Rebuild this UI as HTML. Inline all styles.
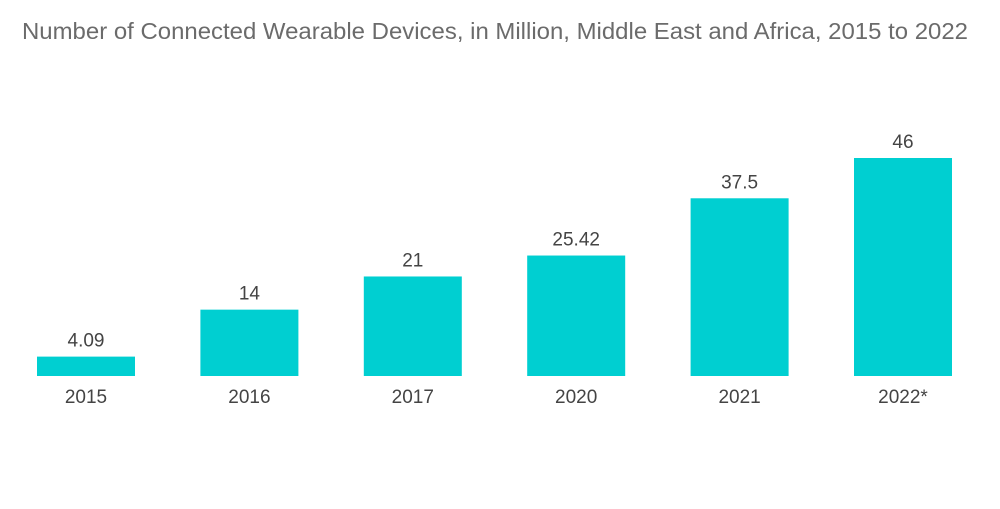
<!DOCTYPE html>
<html><head><meta charset="utf-8"><style>
body{margin:0;background:#fff;width:1000px;height:504px;overflow:hidden;font-family:"Liberation Sans",sans-serif}
</style></head><body>
<svg id="chart" width="1000" height="504">
<text x="22" y="39" font-size="23" textLength="946" lengthAdjust="spacingAndGlyphs" fill="#6b6b6b">Number of Connected Wearable Devices, in Million, Middle East and Africa, 2015 to 2022</text>
<g id="bars"></g>
</svg>
<script>
const categories=["2015","2016","2017","2020","2021","2022*"];
const values=[4.09,14,21,25.42,37.5,46];
const valueLabels=["4.09","14","21","25.42","37.5","46"];
const base=376, scale=218/46, x0=37, step=163.4, bw=98;
const y=v=>base-v*scale;
const g=document.getElementById('bars');
const ns="http://www.w3.org/2000/svg";
categories.forEach((c,i)=>{
  const x=x0+i*step;
  const r=document.createElementNS(ns,'rect');
  r.setAttribute('x',x);r.setAttribute('y',y(values[i]));
  r.setAttribute('width',bw);r.setAttribute('height',base-y(values[i]));
  r.setAttribute('fill','#00cfd1');
  
  
  g.appendChild(r);
  const t=document.createElementNS(ns,'text');
  t.setAttribute('x',x+bw/2);t.setAttribute('y',y(values[i])-10);
  t.setAttribute('text-anchor','middle');t.setAttribute('font-size','19');t.setAttribute('fill','#444');
  t.textContent=valueLabels[i];
  
  
  g.appendChild(t);
  const l=document.createElementNS(ns,'text');
  l.setAttribute('x',x+bw/2);l.setAttribute('y',403);
  l.setAttribute('text-anchor','middle');l.setAttribute('font-size','19');l.setAttribute('fill','#444');
  l.textContent=c;
  
  
  g.appendChild(l);
});
</script>
</body></html>
